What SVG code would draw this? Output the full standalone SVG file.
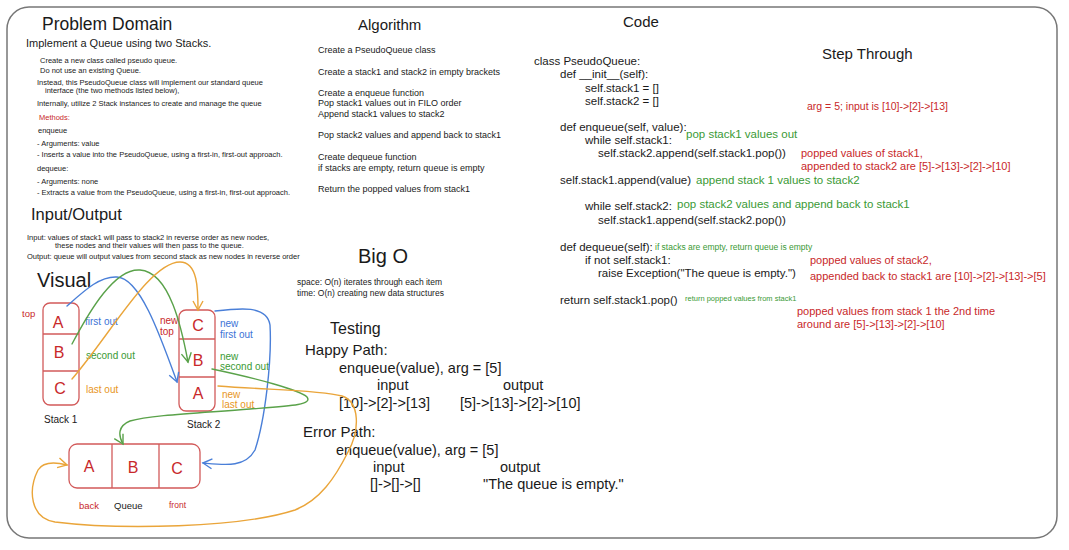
<svg xmlns="http://www.w3.org/2000/svg" width="1069" height="550" viewBox="0 0 1069 550">
<defs>
<style>
text{font-family:"Liberation Sans",Arial,sans-serif;fill:#1a1a1a}
.h{font-size:16px}
.s{font-size:7.5px}
.a{font-size:9px}
.c{font-size:11.5px}
.r{fill:#c8282a}
.g{fill:#3a9a35}
.b{fill:#3b73d6}
.o{fill:#e8961e}
.lbl{font-size:10px}
.big{font-size:15px}
.box{fill:none;stroke:#d25a5a;stroke-width:1.3}
.div{stroke:#d25a5a;stroke-width:1.3}
.let{font-size:16px;fill:#c8282a;text-anchor:middle}
.cn{fill:none;stroke-width:1.4;stroke-linecap:round}
</style>
<marker id="mb" viewBox="-10 -6 12 12" markerWidth="12" markerHeight="12" refX="0" refY="0" orient="auto" markerUnits="userSpaceOnUse"><path d="M-9,-5 L0,0 L-9,5" fill="none" stroke="#4a7fd8" stroke-width="1.4"/></marker>
<marker id="mg" viewBox="-10 -6 12 12" markerWidth="12" markerHeight="12" refX="0" refY="0" orient="auto" markerUnits="userSpaceOnUse"><path d="M-9,-5 L0,0 L-9,5" fill="none" stroke="#5aa24a" stroke-width="1.4"/></marker>
<marker id="mo" viewBox="-10 -6 12 12" markerWidth="12" markerHeight="12" refX="0" refY="0" orient="auto" markerUnits="userSpaceOnUse"><path d="M-9,-5 L0,0 L-9,5" fill="none" stroke="#eaa53a" stroke-width="1.4"/></marker>
</defs>
<rect x="0" y="0" width="1069" height="550" fill="#ffffff"/>
<rect x="7" y="7" width="1050" height="531" rx="22" fill="#ffffff" stroke="#777" stroke-width="1.5"/>

<g id="problem-domain">
<text x="42" y="30" style="font-size:17.5px">Problem Domain</text>
<text x="26" y="47" style="font-size:11px">Implement a Queue using two Stacks.</text>
<text x="40" y="63" class="s">Create a new class called pseudo queue.</text>
<text x="40" y="73" class="s">Do not use an existing Queue.</text>
<text x="37" y="85" class="s">Instead, this PseudoQueue class will implement our standard queue</text>
<text x="45" y="93" class="s">interface (the two methods listed below),</text>
<text x="37" y="106" class="s">Internally, utilize 2 Stack instances to create and manage the queue</text>
<text x="39" y="120" class="s r">Methods:</text>
<text x="38" y="133" class="s">enqueue</text>
<text x="37" y="146" class="s">- Arguments: value</text>
<text x="37" y="157" class="s">- Inserts a value into the PseudoQueue, using a first-in, first-out approach.</text>
<text x="37" y="171" class="s">dequeue:</text>
<text x="37" y="184" class="s">- Arguments: none</text>
<text x="37" y="195" class="s">- Extracts a value from the PseudoQueue, using a first-in, first-out approach.</text>
</g>

<g id="algorithm">
<text x="358" y="30" style="font-size:15px">Algorithm</text>
<text x="318" y="53" class="a">Create a PseudoQueue class</text>
<text x="318" y="75" class="a">Create a stack1 and stack2 in empty brackets</text>
<text x="318" y="96" class="a">Create a enqueue function</text>
<text x="318" y="106" class="a">Pop stack1 values out in FILO order</text>
<text x="318" y="117" class="a">Append stack1 values to stack2</text>
<text x="318" y="138" class="a">Pop stack2 values and append back to stack1</text>
<text x="318" y="160" class="a">Create dequeue function</text>
<text x="318" y="171" class="a">if stacks are empty, return queue is empty</text>
<text x="318" y="192" class="a">Return the popped values from stack1</text>
</g>

<g id="code">
<text x="623" y="27" style="font-size:15px">Code</text>
<text x="534" y="65" class="c">class PseudoQueue:</text>
<text x="560" y="78" class="c">def __init__(self):</text>
<text x="585" y="92" class="c">self.stack1 = []</text>
<text x="585" y="105" class="c">self.stack2 = []</text>
<text x="560" y="131" class="c">def enqueue(self, value):</text>
<text x="686" y="138" class="c g">pop stack1 values out</text>
<text x="585" y="144" class="c">while self.stack1:</text>
<text x="598" y="157" class="c">self.stack2.append(self.stack1.pop())</text>
<text x="560" y="184" class="c">self.stack1.append(value)</text>
<text x="696" y="184" class="c g">append stack 1 values to stack2</text>
<text x="585" y="210" class="c">while self.stack2:</text>
<text x="677" y="208" class="c g">pop stack2 values and append back to stack1</text>
<text x="598" y="224" class="c">self.stack1.append(self.stack2.pop())</text>
<text x="560" y="251" class="c">def dequeue(self):</text>
<text x="655" y="250" class="g" style="font-size:8.5px">if stacks are empty, return queue is empty</text>
<text x="585" y="264" class="c">if not self.stack1:</text>
<text x="598" y="277" class="c">raise Exception("The queue is empty.")</text>
<text x="560" y="304" class="c">return self.stack1.pop()</text>
<text x="685" y="301" class="g" style="font-size:7.5px">return popped values from stack1</text>
</g>

<g id="step-through">
<text x="822" y="59" style="font-size:15px">Step Through</text>
<text x="807" y="110" class="r" style="font-size:10.5px">arg = 5; input is [10]-&gt;[2]-&gt;[13]</text>
<text x="801" y="157" class="r" style="font-size:11px">popped values of stack1,</text>
<text x="801" y="170" class="r" style="font-size:11px">appended to stack2 are [5]-&gt;[13]-&gt;[2]-&gt;[10]</text>
<text x="810" y="264" class="r" style="font-size:11px">popped values of stack2,</text>
<text x="810" y="280" class="r" style="font-size:11px">appended back to stack1 are [10]-&gt;[2]-&gt;[13]-&gt;[5]</text>
<text x="797" y="315" class="r" style="font-size:11px">popped values from stack 1 the 2nd time</text>
<text x="797" y="328" class="r" style="font-size:11px">around are [5]-&gt;[13]-&gt;[2]-&gt;[10]</text>
</g>

<g id="input-output">
<text x="31" y="220" style="font-size:16.5px">Input/Output</text>
<text x="27" y="240" class="s">Input: values of stack1 will pass to stack2 in reverse order as new nodes,</text>
<text x="55" y="248" class="s">these nodes and their values will then pass to the queue.</text>
<text x="27" y="259" class="s">Output: queue will output values from second stack as new nodes in reverse order</text>
</g>

<g id="big-o">
<text x="358" y="263" style="font-size:20px">Big O</text>
<text x="297" y="285" style="font-size:8.5px">space: O(n) iterates through each item</text>
<text x="297" y="296" style="font-size:8.5px">time: O(n) creating new data structures</text>
</g>

<g id="testing">
<text x="330" y="334" style="font-size:16px">Testing</text>
<text x="305" y="355" style="font-size:15px">Happy Path:</text>
<text x="339" y="373" style="font-size:14.5px">enqueue(value), arg = [5]</text>
<text x="377" y="390" style="font-size:14.5px">input</text>
<text x="503" y="390" style="font-size:14.5px">output</text>
<text x="339" y="408" style="font-size:14.5px">[10]-&gt;[2]-&gt;[13]</text>
<text x="460" y="408" style="font-size:14.5px">[5]-&gt;[13]-&gt;[2]-&gt;[10]</text>
<text x="303" y="437" style="font-size:15px">Error Path:</text>
<text x="336" y="455" style="font-size:14.5px">enqueue(value), arg = [5]</text>
<text x="373" y="472" style="font-size:14.5px">input</text>
<text x="500" y="472" style="font-size:14.5px">output</text>
<text x="370" y="489" style="font-size:14.5px">[]-&gt;[]-&gt;[]</text>
<text x="483" y="489" style="font-size:14.5px">"The queue is empty."</text>
</g>

<g id="visual-title">
<text x="37" y="287" style="font-size:20px">Visual</text>
</g>

<g id="stack1">
<rect x="43" y="303" width="36" height="102" rx="7" class="box"/>
<line x1="43" y1="334" x2="79" y2="334" class="div"/>
<line x1="43" y1="371" x2="79" y2="371" class="div"/>
<text x="58" y="328" class="let">A</text>
<text x="59" y="358" class="let">B</text>
<text x="60" y="394" class="let">C</text>
<text x="22" y="317" class="r lbl" style="font-size:9.5px">top</text>
<text x="85" y="325" class="b lbl">first out</text>
<text x="86" y="359" class="g lbl">second out</text>
<text x="86" y="393" class="o lbl">last out</text>
<text x="44" y="423" style="font-size:10px">Stack 1</text>
</g>

<g id="stack2">
<rect x="179" y="310" width="36" height="101" rx="7" class="box"/>
<line x1="179" y1="339" x2="215" y2="339" class="div"/>
<line x1="179" y1="377" x2="215" y2="377" class="div"/>
<text x="198" y="331" class="let">C</text>
<text x="198" y="366" class="let">B</text>
<text x="198" y="399" class="let">A</text>
<text x="160" y="324" class="r lbl">new</text>
<text x="160" y="335" class="r lbl">top</text>
<text x="220" y="327" class="b lbl">new</text>
<text x="220" y="338" class="b lbl">first out</text>
<text x="220" y="360" class="g lbl">new</text>
<text x="220" y="370" class="g lbl">second out</text>
<text x="222" y="398" class="o lbl">new</text>
<text x="222" y="408" class="o lbl">last out</text>
<text x="187" y="428" style="font-size:10px">Stack 2</text>
</g>

<g id="queue">
<rect x="69" y="444" width="131" height="44" rx="8" class="box"/>
<line x1="112" y1="444" x2="112" y2="488" class="div"/>
<line x1="159" y1="444" x2="159" y2="488" class="div"/>
<text x="89" y="472" class="let">A</text>
<text x="133" y="473" class="let">B</text>
<text x="177" y="474" class="let">C</text>
<text x="79" y="509" class="r" style="font-size:9.5px">back</text>
<text x="114" y="509" style="font-size:9.5px">Queue</text>
<text x="169" y="508" class="r" style="font-size:8.5px">front</text>
</g>

<g id="connectors">
<path class="cn" stroke="#4a7fd8" marker-end="url(#mb)" d="M67,306 C85,290 100,276 117,277 C140,278 160,335 177,382"/>
<path class="cn" stroke="#5aa24a" marker-end="url(#mg)" d="M72,344 C90,310 115,268 140,270 C170,272 182,330 188,362"/>
<path class="cn" stroke="#eaa53a" stroke-width="1.8" marker-end="url(#mo)" d="M72,379 C110,335 150,262 180,262 C198,262 198,290 198,310"/>
<path class="cn" stroke="#4a7fd8" marker-end="url(#mb)" d="M215,311 C240,308 267,305 270,325 C272,360 265,420 255,450 C245,468 225,465 203,463"/>
<path class="cn" stroke="#5aa24a" marker-end="url(#mg)" d="M212,369 C255,378 300,390 307,397 C313,405 290,406 250,409 C200,413 150,415 130,421 C118,426 118,435 123,444"/>
<path class="cn" stroke="#eaa53a" marker-end="url(#mo)" d="M218,386 C270,390 320,390 342,396 C360,402 360,430 348,452 C335,478 320,500 295,510 C240,528 120,530 55,522 C30,518 28,490 38,470 C43,462 55,462 67,465"/>
</g>
</svg>
